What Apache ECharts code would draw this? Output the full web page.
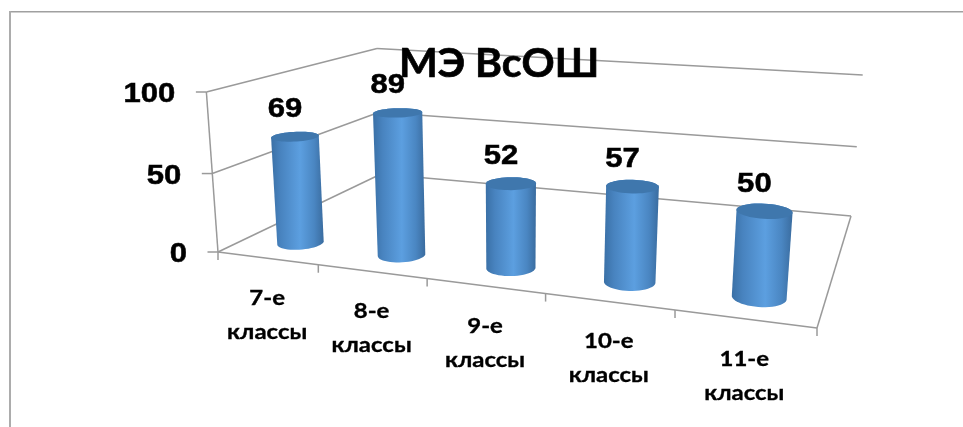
<!DOCTYPE html>
<html><head><meta charset="utf-8">
<style>html,body{margin:0;padding:0;background:#fff}#c{width:963px;height:427px}</style>
<script src="https://cdn.jsdelivr.net/npm/echarts@6/dist/echarts.min.js"></script>
</head><body><div id="c"></div>
<script>
const categories = ['7-е\nклассы','8-е\nклассы','9-е\nклассы','10-е\nклассы','11-е\nклассы'];
const values = [69,89,52,57,50];
const yTicks = [0,50,100];
const chartTitle = 'МЭ ВсОШ';

// hidden scale rectangle: the library's axes map data to it, then it is tilted into the 3D box
const G = {left:100, top:100, width:500, height:200};
const F = {fl:[218,252], fr:[817,328], br:[851,216], bl:[381,174], tl:[206,92], vanish:[512,4300]};
const DEPTH = 0.16, RU = 0.04, RD = 0.07, BAR_SHIFT = 0.006, HEIGHT_TAPER = 0.04;
const LINE = '#9a9a9a';

const [x0,y0]=F.fl,[x1,y1]=F.fr,[x2,y2]=F.br,[x3,y3]=F.bl;
const dx1=x1-x2,dx2=x3-x2,sx=x0-x1+x2-x3,dy1=y1-y2,dy2=y3-y2,sy=y0-y1+y2-y3;
const det=dx1*dy2-dx2*dy1;
const g=(sx*dy2-dx2*sy)/det,i=(dx1*sy-sx*dy1)/det;
const a=x1-x0+g*x1,b=x3-x0+i*x3,c=y1-y0+g*y1,d=y3-y0+i*y3;
const s=(F.tl[1]-y0)/(F.vanish[1]-F.tl[1]);
function P(u,v,h0){const h=h0*(1-HEIGHT_TAPER*u),w=g*u+i*v+1+s*h;return [(a*u+b*v+x0+s*F.vanish[0]*h)/w,(c*u+d*v+y0+s*F.vanish[1]*h)/w];}
const U=px=>(px-G.left)/G.width, H=py=>(G.top+G.height-py)/G.height;

function line(p,q,w){return {type:'line',shape:{x1:p[0],y1:p[1],x2:q[0],y2:q[1]},style:{stroke:LINE,lineWidth:w||1.5},silent:true};}
function hull(pts){
  const t=pts.slice().sort((p,q)=>p[0]-q[0]||p[1]-q[1]);
  const cr=(o,p,q)=>(p[0]-o[0])*(q[1]-o[1])-(p[1]-o[1])*(q[0]-o[0]);
  const lo=[],up=[];
  for(const p of t){while(lo.length>1&&cr(lo[lo.length-2],lo[lo.length-1],p)<=0)lo.pop();lo.push(p);}
  for(const p of t.slice().reverse()){while(up.length>1&&cr(up[up.length-2],up[up.length-1],p)<=0)up.pop();up.push(p);}
  return lo.slice(0,-1).concat(up.slice(0,-1));
}
function circle(u,h){const r=[];for(let t=0;t<48;t++){const A=t/48*Math.PI*2;r.push(P(u+RU*Math.cos(A),DEPTH+RD*Math.sin(A),h));}return r;}

const wallItem=(params,api)=>{
  const v=api.value(1),h=H(api.coord([0,v])[1]),kids=[];
  const e=P(0,0,h);
  kids.push(line(P(0,0,h),P(0,1,h)),line(P(0,1,h),P(1,1,h)),line([e[0]-10.5,e[1]],e));
  if(v===yTicks[0]){
    kids.push(line(P(0,0,0),P(1,0,0)),line(P(1,0,0),P(1,1,0)),line(P(0,0,0),P(0,0,1)));
  }
  kids.push({type:'text',x:e[0]-31,y:e[1]+3,scaleX:1.15,style:{text:String(v),x:0,y:0,align:'right',verticalAlign:'middle',
    font:'bold 27px "Liberation Sans"',fill:'#000',stroke:'#000',lineWidth:.5}});
  return {type:'group',children:kids};
};
const catItem=(params,api)=>{
  const idx=api.value(0),mid=api.coord([idx,0])[0],bw=api.size([1,0])[0],kids=[];
  const tick=u=>{const p=P(u,0,0);return line(p,[p[0],p[1]+8]);};
  kids.push(tick(U(mid-bw/2)));
  if(idx===categories.length-1)kids.push(tick(U(mid+bw/2)));
  const f=P(U(mid),0,0);
  kids.push({type:'text',x:f[0],y:f[1]+57,scaleX:1.14,style:{text:categories[idx],x:0,y:0,align:'center',verticalAlign:'middle',
    font:'bold 21px Lato, "Open Sans"',lineHeight:34,fill:'#000',stroke:'#000',lineWidth:.35}});
  return {type:'group',children:kids};
};
const barItem=(params,api)=>{
  const idx=api.value(0),val=api.value(1),pt=api.coord([idx,val]);
  const u=U(pt[0])+BAR_SHIFT,h=H(pt[1]);
  const top=circle(u,h),bot=circle(u,0),body=hull(top.concat(bot)),tc=P(u,DEPTH,h);
  return {type:'group',children:[
    {type:'polygon',shape:{points:body},style:{fill:{type:'linear',x:0,y:0,x2:1,y2:0,colorStops:[
      {offset:0,color:'#3a70a6'},{offset:.18,color:'#4883bf'},{offset:.55,color:'#5c9fe0'},{offset:.82,color:'#4a86c2'},{offset:1,color:'#3a6c9f'}]}}},
    {type:'polygon',shape:{points:top},style:{fill:'#3f77ad'}},
    {type:'text',x:tc[0]-10,y:tc[1]-27,scaleX:1.15,style:{text:String(val),x:0,y:0,align:'center',verticalAlign:'middle',
      font:'bold 27px "Liberation Sans"',fill:'#000',stroke:'#000',lineWidth:.5}}
  ]};
};

const chart=echarts.init(document.getElementById('c'),null,{renderer:'canvas'});
chart.setOption({
  animation:false,
  backgroundColor:'#fff',
  title:{text:chartTitle,left:399,top:43,padding:0,textStyle:{fontFamily:'Lato, "Open Sans"',fontWeight:'bold',fontSize:41,color:'#000',textBorderColor:'#000',textBorderWidth:.7},z:10},
  grid:{left:G.left,top:G.top,width:G.width,height:G.height},
  xAxis:{type:'category',data:categories,show:false},
  yAxis:{type:'value',min:0,max:100,interval:50,show:false},
  graphic:[
    {type:'rect',shape:{x:9,y:11,width:954,height:1.5},style:{fill:'#a0a0a0'},silent:true},
    {type:'rect',shape:{x:9,y:11,width:2,height:416},style:{fill:'#acacac'},silent:true}
  ],
  series:[
    {type:'custom',name:'walls',coordinateSystem:'cartesian2d',renderItem:wallItem,data:yTicks.map(v=>[0,v]),encode:{x:0,y:1},z:1,silent:true},
    {type:'custom',name:'categories',coordinateSystem:'cartesian2d',renderItem:catItem,data:categories.map((_,k)=>[k,0]),encode:{x:0,y:1},z:1,silent:true},
    {type:'custom',name:'МЭ ВсОШ',coordinateSystem:'cartesian2d',renderItem:barItem,data:values.map((v,k)=>[k,v]),encode:{x:0,y:1},z:2}
  ]
});
</script></body></html>
